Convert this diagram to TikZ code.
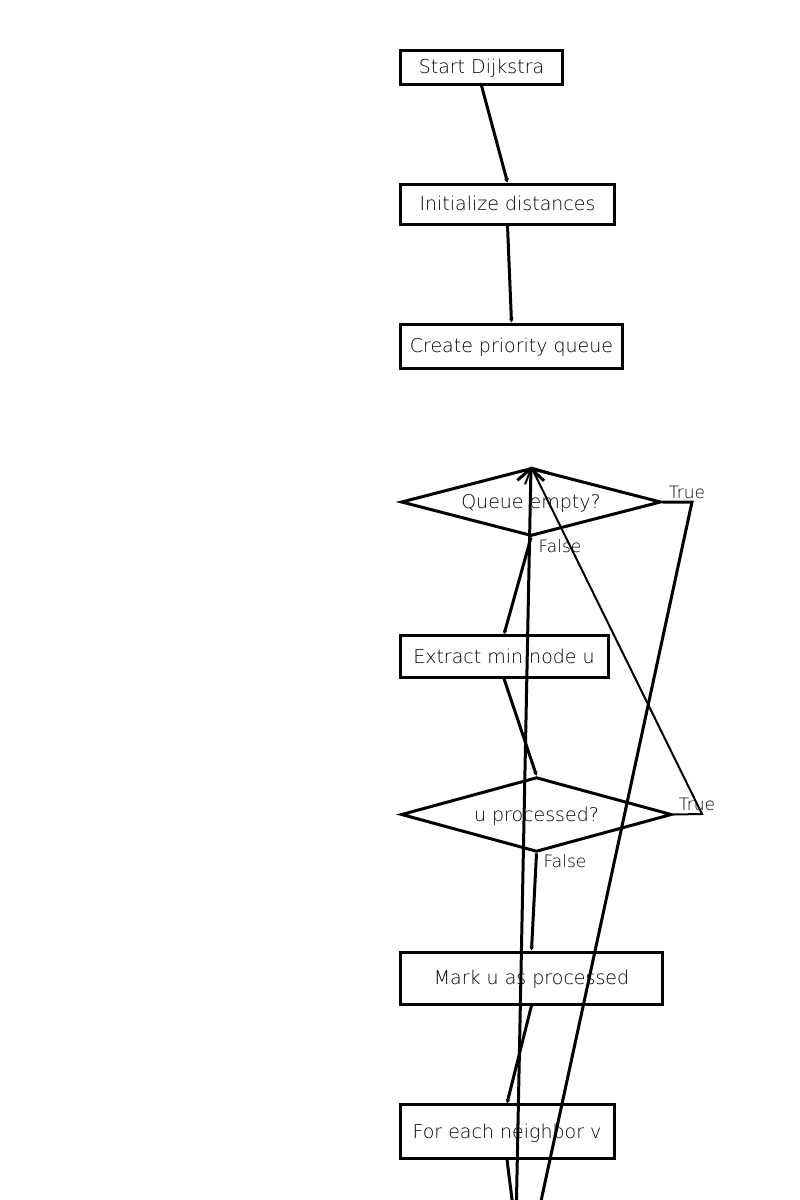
\documentclass[tikz,border=0pt]{standalone}
\usepackage{fontspec}
\setmainfont{DejaVu Sans ExtraLight}
\usetikzlibrary{shapes.geometric,arrows.meta}
\begin{document}
\begin{tikzpicture}[x=0.75pt,y=-0.75pt,
  nodetext/.style={font=\fontsize{14.25pt}{16pt}\selectfont,text height=10.4pt,text depth=0pt},
  box/.style={draw,line width=2.25pt,rectangle,inner sep=0pt,nodetext},
  decision/.style={draw,line width=2.25pt,diamond,inner sep=0pt,aspect=3.8,nodetext},
  lbl/.style={inner sep=0pt,font=\fontsize{12.75pt}{14pt}\selectfont,text height=9.3pt,text depth=0pt},
  conn/.style={line width=2.25pt,-{Stealth[length=3pt,width=3.5pt]}},
  loopback/.style={line width=2.25pt,-{Straight Barb[length=9pt,width=20pt,line width=2.25pt]}},
  thinback/.style={line width=1.5pt,-{Straight Barb[length=9pt,width=20pt,line width=1.5pt]}},
  plain/.style={line width=2.25pt}]
\useasboundingbox (0,0) rectangle (800,1200);
\clip (0,0) rectangle (800,1200);

% process steps and decisions
\node[box,minimum width=122pt,minimum height=25.5pt] (start) at (481.5,67) {Start Dijkstra};
\node[box,minimum width=161pt,minimum height=30pt] (init) at (507.5,204) {Initialize distances};
\node[box,minimum width=167pt,minimum height=33pt] (pq) at (511.5,346) {Create priority queue};
\node[decision,minimum width=195pt,minimum height=51pt] (qe) at (531,502) {Queue empty?};
\node[box,minimum width=156pt,minimum height=31pt] (ext) at (504,656.5) {Extract min node u};
\node[decision,minimum width=203pt,minimum height=56pt] (up) at (536.5,814.5) {u processed?};
\node[box,minimum width=197pt,minimum height=39pt] (mark) at (531.5,978) {Mark u as processed};
\node[box,minimum width=160.5pt,minimum height=40pt] (nb) at (507,1131.5) {For each neighbor v};

% branch corners and continuations below the page
\coordinate (qeT) at (692,502);
\coordinate (upT) at (702,814);
\coordinate (offT) at (538,1215);
\coordinate (offL) at (516.2,1215);
\coordinate (offN) at (514,1215);

% main flow
\draw[conn] (start.south) -- (init.north);
\draw[conn] (init.south) -- (pq.north);
\draw[conn] (qe.south) -- (ext.north);
\draw[conn] (ext.south) -- (up.north);
\draw[conn] (up.south) -- (mark.north);
\draw[conn] (mark.south) -- (nb.north);
\draw[plain] (nb.south) -- (offN);

% branches
\draw[plain] (qe.east) -- (qeT) -- (offT);
\draw[thinback] (up.east) -- (upT) -- (qe.north);
\draw[loopback] (offL) -- (qe.north);

% branch labels
\node[lbl] (qeTrue) at (687,492) {True};
\node[lbl] (qeFalse) at (560,546) {False};
\node[lbl] (upTrue) at (697,804) {True};
\node[lbl] (upFalse) at (565,861) {False};
\end{tikzpicture}
\end{document}
